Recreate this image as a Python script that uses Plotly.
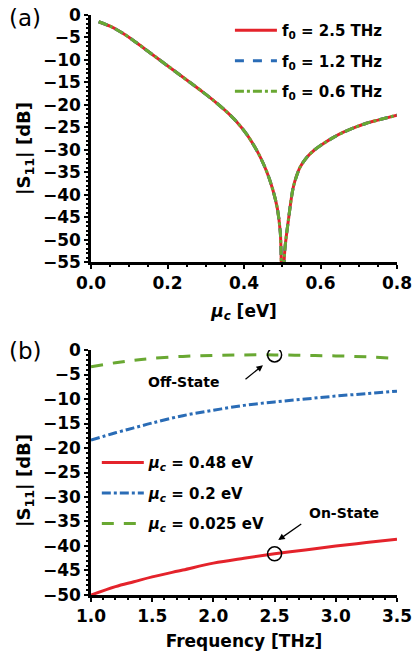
import plotly.graph_objects as go

# ---------------- Panel (a) data ----------------
mu_a = [0.02, 0.05, 0.08, 0.11, 0.14, 0.17, 0.20, 0.23, 0.26, 0.29, 0.32, 0.35, 0.38, 0.41,
        0.44, 0.46, 0.475, 0.487, 0.495, 0.50, 0.507, 0.516, 0.529, 0.546, 0.565, 0.585, 0.61,
        0.635, 0.66, 0.69, 0.72, 0.75, 0.80]
s11_f25 = [-1.5, -2.5, -3.9, -5.6, -7.5, -9.4, -11.3, -13.2, -15.1, -17.0, -19.0, -21.2, -23.7, -26.9,
           -31.2, -35.0, -38.8, -43.0, -48.5, -62.0, -52.0, -45.7, -38.3, -34.0, -31.6, -30.0, -28.5,
           -27.2, -26.1, -25.0, -24.1, -23.4, -22.3]
s11_f12 = list(s11_f25)
s11_f06 = list(s11_f25)
labels_a = ["f<sub>0</sub> = 2.5 THz", "f<sub>0</sub> = 1.2 THz", "f<sub>0</sub> = 0.6 THz"]

# ---------------- Panel (b) data ----------------
freq_b = [1.0, 1.2, 1.35, 1.5, 1.75, 2.0, 2.25, 2.5, 2.75, 3.0, 3.25, 3.5]
s11_mu048 = [-50.0, -48.3, -47.3, -46.3, -44.9, -43.5, -42.5, -41.6, -40.8, -40.0, -39.3, -38.6]
s11_mu02 = [-18.4, -16.9, -15.9, -14.9, -13.4, -12.3, -11.3, -10.6, -10.0, -9.4, -8.9, -8.4]
s11_mu0025 = [-3.4, -2.6, -2.1, -1.7, -1.3, -1.1, -1.0, -1.0, -1.1, -1.2, -1.4, -1.7]
labels_b = ["<i>μ</i><sub><i>c</i></sub> = 0.48 eV", "<i>μ</i><sub><i>c</i></sub> = 0.2 eV",
            "<i>μ</i><sub><i>c</i></sub> = 0.025 eV"]
off_state = (2.5, -1.0)
on_state = (2.5, -41.6)
ytitle = "|S<sub>11</sub>| [dB]"

RED = "#e4232b"
BLUE = "#2a6cb6"
GREEN = "#69a832"
FONT = "DejaVu Sans"

fig = go.Figure()

styles_a = [(RED, "solid"), (BLUE, "dash"), (GREEN, "dashdot")]
for i, (ys, lab) in enumerate(zip([s11_f25, s11_f12, s11_f06], labels_a)):
    c, d = styles_a[i]
    fig.add_trace(go.Scatter(x=mu_a, y=ys, mode="lines", name=lab, legendgroup=f"a{i}",
                             line=dict(color=c, dash=d, width=3, shape="spline", smoothing=0.8),
                             xaxis="x", yaxis="y", legend="legend"))

styles_b = [(RED, "solid"), (BLUE, "dashdot"), (GREEN, "12px,10px")]
for i, (ys, lab) in enumerate(zip([s11_mu048, s11_mu02, s11_mu0025], labels_b)):
    c, d = styles_b[i]
    fig.add_trace(go.Scatter(x=freq_b, y=ys, mode="lines", name=lab, legendgroup=f"b{i}",
                             line=dict(color=c, dash=d, width=3, shape="spline"),
                             xaxis="x2", yaxis="y2", legend="legend2"))

fig.add_trace(go.Scatter(x=[off_state[0], on_state[0]], y=[off_state[1], on_state[1]],
                         mode="markers", showlegend=False,
                         marker=dict(symbol="circle-open", size=14, color="black",
                                     line=dict(width=1.5, color="black")),
                         xaxis="x2", yaxis="y2"))

BOLD = 700
axis_common = dict(showline=True, linecolor="black", linewidth=2.5, ticks="outside",
                   ticklen=4, tickwidth=2, tickcolor="black", showgrid=False, zeroline=False,
                   tickfont=dict(family=FONT, size=17, color="black", weight=BOLD),
                   mirror=False, automargin=False, ticklabeloverflow="allow")
minor_common = dict(ticks="outside", ticklen=2.5, tickcolor="black", tickwidth=1.5)

fig.update_layout(
    width=412, height=657, margin=dict(l=91, r=15, t=15, b=62, autoexpand=False),
    paper_bgcolor="white", plot_bgcolor="white",
    font=dict(family=FONT, color="black"),
    xaxis=dict(axis_common, domain=[0, 1], range=[0, 0.8], dtick=0.2, tickformat=".1f",
               anchor="y", minor=dict(minor_common, dtick=0.05),
               title=dict(text="<i>μ</i><sub><i>c</i></sub> [eV]", standoff=13,
                          font=dict(family=FONT, size=17, weight=BOLD))),
    yaxis=dict(axis_common, domain=[0.5741, 1], range=[-55, 0], dtick=5, anchor="x",
               minor=dict(minor_common, dtick=1)),
    xaxis2=dict(axis_common, domain=[0, 1], range=[1, 3.5], dtick=0.5, tickformat=".1f",
                anchor="y2", minor=dict(minor_common, dtick=0.1),
                title=dict(text="Frequency [THz]", standoff=10,
                           font=dict(family=FONT, size=17, weight=BOLD))),
    yaxis2=dict(axis_common, domain=[0, 0.4224], range=[-50, 0], dtick=5, anchor="x2",
                minor=dict(minor_common, dtick=1)),
    legend=dict(x=0.454, y=1.0017, xanchor="left", yanchor="top", bgcolor="rgba(0,0,0,0)",
                font=dict(family=FONT, size=15, color="black", weight=BOLD),
                tracegroupgap=8, itemwidth=42),
    legend2=dict(x=0.019, y=0.2565, xanchor="left", yanchor="top", bgcolor="rgba(0,0,0,0)",
                 font=dict(family=FONT, size=15, color="black", weight=BOLD),
                 tracegroupgap=8, itemwidth=42),
)

# y-axis titles (slightly below panel centre, as in the reference)
for yc in (0.7707, 0.1983):
    fig.add_annotation(text=ytitle, xref="paper", yref="paper", x=-0.2157, y=yc,
                       xanchor="center", yanchor="middle", textangle=-90, showarrow=False,
                       font=dict(family=FONT, size=18, color="black", weight=BOLD))

fig.add_annotation(text="(a)", xref="paper", yref="paper", x=-0.2745, y=1.0207, xanchor="left",
                   yanchor="top", showarrow=False, font=dict(family=FONT, size=23, color="black"))
fig.add_annotation(text="(b)", xref="paper", yref="paper", x=-0.2745, y=0.446, xanchor="left",
                   yanchor="top", showarrow=False, font=dict(family=FONT, size=23, color="black"))

fig.add_annotation(x=2.405, y=-3.1, ax=2.25, ay=-6.2, xref="x2", yref="y2", axref="x2", ayref="y2",
                   text="", showarrow=True, arrowhead=2, arrowsize=1, arrowwidth=1.3, arrowcolor="black")
fig.add_annotation(x=2.53, y=-38.8, ax=2.73, ay=-35.3, xref="x2", yref="y2", axref="x2", ayref="y2",
                   text="", showarrow=True, arrowhead=2, arrowsize=1, arrowwidth=1.3, arrowcolor="black")
fig.add_annotation(text="Off-State", xref="x2", yref="y2", x=1.754, y=-6.5, showarrow=False,
                   font=dict(family=FONT, size=14, color="black", weight=BOLD))
fig.add_annotation(text="On-State", xref="x2", yref="y2", x=3.07, y=-33.3, showarrow=False,
                   font=dict(family=FONT, size=14, color="black", weight=BOLD))

fig.write_html("out.html", config={"displayModeBar": False},
               post_script="document.body.style.margin='0px';")
